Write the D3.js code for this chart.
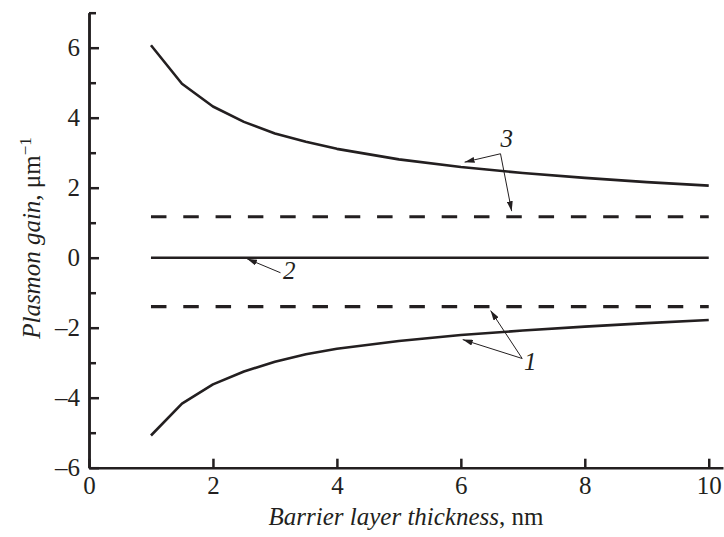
<!DOCTYPE html>
<html lang="en">
<head>
    <meta charset="UTF-8">
    <title>Plasmon gain</title>
    <script src="https://d3js.org/d3.v7.min.js"></script>
    <style>
        body { margin: 0; background: #fff; }
        svg { display: block; }
        .axis path, .axis line { stroke: #231f20; stroke-width: 2.5; fill: none; }
        .axis text { font-size: 25px; fill: #231f20; }
        .lbl { fill: #231f20; }
    </style>
</head>
<body>
<script>
    // data
    let thickness = [1, 1.5, 2, 2.5, 3, 3.5, 4, 5, 6, 7, 8, 9, 10];
    let gain3 = [6.07, 4.97, 4.32, 3.88, 3.55, 3.31, 3.11, 2.81, 2.59, 2.42, 2.28, 2.16, 2.06];
    let gain1 = [-5.08, -4.17, -3.62, -3.25, -2.97, -2.76, -2.6, -2.38, -2.21, -2.08, -1.97, -1.87, -1.78];
    let gain2 = [0, 0, 0, 0, 0, 0, 0, 0, 0, 0, 0, 0, 0];
    let dashed3 = [1.17, 1.17];
    let dashed1 = [-1.4, -1.4];
    let dashedX = [1, 10];
    let xTicks = [0, 2, 4, 6, 8, 10];
    let yMajor = [-6, -4, -2, 0, 2, 4, 6];
    let yMinor = [-5, -3, -1, 1, 3, 5, 7];

    let SERIF = "'Liberation Serif', Tinos, 'Times New Roman', Times, 'Nimbus Roman', 'DejaVu Serif', serif";

    let W = 724, H = 537;
    let svg = d3.select("body").append("svg").attr("width", W).attr("height", H);

    let x = d3.scaleLinear().domain([0, 10.23]).range([89, 723]);
    let y = d3.scaleLinear().domain([-6, 7]).range([467.7, 12.7]);

    /* 坐标轴 */
    let fmt = d => d < 0 ? "\u2013" + Math.abs(d) : "" + d;
    function axis(g, gen) {
        g.call(gen).attr("font-family", null).attr("font-size", null);
        g.selectAll("text").style("font-family", SERIF);
    }
    svg.append("g").attr("class", "axis")
        .attr("transform", `translate(0, ${y(-6)})`)
        .call(g => axis(g, d3.axisBottom(x).tickValues(xTicks).tickFormat(fmt).tickSizeInner(-9).tickSizeOuter(0).tickPadding(9)));
    svg.append("g").attr("class", "axis")
        .attr("transform", `translate(${x(0)}, 0)`)
        .call(g => axis(g, d3.axisLeft(y).tickValues(yMajor).tickFormat(fmt).tickSizeInner(-10).tickSizeOuter(0).tickPadding(9)));
    svg.append("g").attr("class", "axis")
        .attr("transform", `translate(${x(0)}, 0)`)
        .call(g => axis(g, d3.axisLeft(y).tickValues(yMinor).tickFormat("").tickSizeInner(-7).tickSizeOuter(0)));

    /* 曲线 */
    let line = d3.line().x(d => x(d[0])).y(d => y(d[1]));
    let solid = [gain3, gain2, gain1];
    solid.forEach(s => {
        svg.append("path")
            .attr("d", line(thickness.map((t, i) => [t, s[i]])))
            .attr("fill", "none").attr("stroke", "#231f20").attr("stroke-width", 2.6)
            .attr("stroke-linejoin", "round");
    });
    [dashed3, dashed1].forEach(s => {
        svg.append("path")
            .attr("d", line(dashedX.map((t, i) => [t, s[i]])))
            .attr("fill", "none").attr("stroke", "#231f20").attr("stroke-width", 3.2)
            .attr("stroke-dasharray", "15.5 16.8");
    });

    /* 标注箭头 */
    svg.append("defs").append("marker")
        .attr("id", "arr").attr("viewBox", "0 0 10 6").attr("refX", 10).attr("refY", 3)
        .attr("markerWidth", 10).attr("markerHeight", 6).attr("markerUnits", "userSpaceOnUse")
        .attr("orient", "auto")
        .append("path").attr("d", "M0,0 L10,3 L0,6 Z").attr("fill", "#231f20");

    let notes = [
        { text: "3", at: [6.74, 3.15], from: [6.64, 2.97], to: [[6.06, 2.73], [6.82, 1.33]] },
        { text: "2", at: [3.23, -0.62], from: [3.09, -0.43], to: [[2.55, -0.03]] },
        { text: "1", at: [7.12, -3.2], from: [6.99, -2.88], to: [[6.03, -2.34], [6.48, -1.51]] }
    ];
    notes.forEach(n => {
        n.to.forEach(p => {
            svg.append("line")
                .attr("x1", x(n.from[0])).attr("y1", y(n.from[1]))
                .attr("x2", x(p[0])).attr("y2", y(p[1]))
                .attr("stroke", "#231f20").attr("stroke-width", 1)
                .attr("marker-end", "url(#arr)");
        });
        svg.append("text").attr("class", "lbl")
            .attr("x", x(n.at[0])).attr("y", y(n.at[1]))
            .attr("text-anchor", "middle")
            .style("font-family", SERIF)
            .style("font-size", "25px").style("font-style", "italic")
            .text(n.text);
    });

    /* 轴标题 */
    let xt = svg.append("text").attr("class", "lbl")
        .attr("x", 406).attr("y", 525).attr("text-anchor", "middle")
        .style("font-family", SERIF).style("font-size", "25px");
    xt.append("tspan").style("font-style", "italic").text("Barrier layer thickness");
    xt.append("tspan").text(", nm");

    let yt = svg.append("text").attr("class", "lbl")
        .attr("transform", "translate(40, 238) rotate(-90)")
        .attr("text-anchor", "middle")
        .style("font-family", SERIF).style("font-size", "25px");
    yt.append("tspan").style("font-style", "italic").text("Plasmon gain");
    yt.append("tspan").text(", \u03bcm");
    yt.append("tspan").attr("dy", -9).style("font-size", "17px").text("\u22121");
</script>
</body>
</html>
